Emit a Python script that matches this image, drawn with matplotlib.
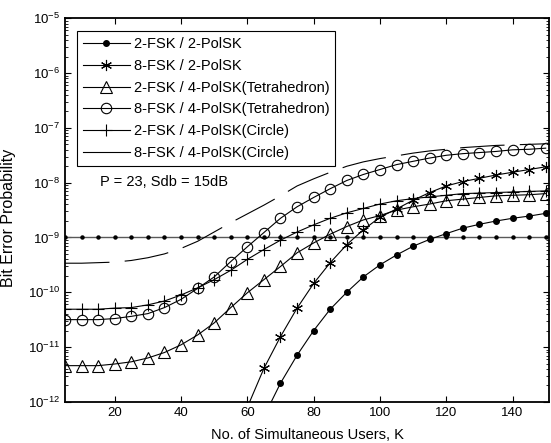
import matplotlib
matplotlib.use('Agg')
import matplotlib.pyplot as plt
from matplotlib.lines import Line2D
import numpy as np

plt.rcParams['font.family'] = ['Liberation Sans', 'DejaVu Sans']
plt.rcParams['font.size'] = 9
plt.rcParams['mathtext.default'] = 'regular'
plt.rcParams['lines.scale_dashes'] = False

# users K
K = np.arange(5, 155, 5)

# log10 of bit error probability
fsk2_pol2_K = np.arange(65, 155, 5)
fsk2_pol2 = [-12.27, -11.66, -11.15, -10.70, -10.31, -10.00, -9.72, -9.50, -9.32,
             -9.16, -9.035, -8.93, -8.83, -8.76, -8.70, -8.65, -8.61, -8.56]

fsk8_pol2_K = np.arange(60, 155, 5)
fsk8_pol2 = [-12.1, -11.39, -10.81, -10.29, -9.84, -9.46, -9.13, -8.86, -8.63, -8.48,
             -8.32, -8.18, -8.06, -7.98, -7.92, -7.86, -7.81, -7.76, -7.71]

fsk2_tetra = [-11.34, -11.34, -11.34, -11.31, -11.27, -11.20, -11.10, -10.96, -10.78, -10.56,
              -10.28, -10.01, -9.77, -9.53, -9.28, -9.10, -8.94, -8.80, -8.68, -8.60,
              -8.50, -8.44, -8.39, -8.33, -8.30, -8.27, -8.24, -8.23, -8.22, -8.20]

fsk8_tetra = [-10.50, -10.50, -10.50, -10.48, -10.44, -10.39, -10.28, -10.13, -9.93, -9.72,
              -9.44, -9.17, -8.91, -8.65, -8.44, -8.27, -8.11, -7.96, -7.85, -7.76,
              -7.67, -7.61, -7.55, -7.50, -7.47, -7.45, -7.43, -7.40, -7.39, -7.37]

fsk2_circle = [-10.31, -10.31, -10.31, -10.29, -10.28, -10.23, -10.16, -10.05, -9.92, -9.77,
               -9.60, -9.40, -9.22, -9.05, -8.90, -8.77, -8.65, -8.55, -8.47, -8.39,
               -8.33, -8.29, -8.26, -8.23, -8.20, -8.19, -8.18, -8.17, -8.16, -8.15]

fsk8_circle = [-9.47, -9.47, -9.46, -9.45, -9.42, -9.37, -9.30, -9.20, -9.07, -8.90,
               -8.73, -8.57, -8.41, -8.24, -8.06, -7.93, -7.81, -7.70, -7.62, -7.56,
               -7.51, -7.46, -7.42, -7.39, -7.36, -7.34, -7.32, -7.31, -7.30, -7.29]

ber_limit = 1e-9

labels = ['2-FSK / 2-PolSK', '8-FSK / 2-PolSK', '2-FSK / 4-PolSK(Tetrahedron)',
          '8-FSK / 4-PolSK(Tetrahedron)', '2-FSK / 4-PolSK(Circle)', '8-FSK / 4-PolSK(Circle)']

fig = plt.figure(figsize=(5.51, 4.43), dpi=100)
ax = fig.add_axes([0.118, 0.093, 0.8784, 0.8656])

lw = 0.8
ax.semilogy(K, np.full(len(K), ber_limit), color='0.35', lw=1.0, marker='o', ms=2.2,
            mfc='k', mec='k')

h1, = ax.semilogy(fsk2_pol2_K, 10.0 ** np.array(fsk2_pol2), 'k-', lw=lw, marker='o',
                  ms=4, mfc='k', mec='k')
h2, = ax.semilogy(fsk8_pol2_K, 10.0 ** np.array(fsk8_pol2), 'k-', lw=lw, marker=(6, 2, 0),
                  ms=8, mew=0.8)
h3, = ax.semilogy(K, 10.0 ** np.array(fsk2_tetra), 'k-', lw=lw, marker='^', ms=8,
                  mfc='none', mew=0.8)
h4, = ax.semilogy(K, 10.0 ** np.array(fsk8_tetra), 'k-', lw=lw, marker='o', ms=7.5,
                  mfc='none', mew=0.8)
h5, = ax.semilogy(K, 10.0 ** np.array(fsk2_circle), 'k-', lw=lw, marker='+', ms=9, mew=0.8)
h6, = ax.semilogy(K, 10.0 ** np.array(fsk8_circle), 'k-', lw=lw)
h6.set_dashes((32, 11))

ax.set_xlim(5, 151)
ax.set_ylim(1e-12, 1e-5)
ax.set_xticks([20, 40, 60, 80, 100, 120, 140])
ax.tick_params(which='both', direction='in', top=True, right=True)
ax.tick_params(which='major', length=4, labelsize=9.5)
ax.tick_params(which='minor', length=2)
for s in ax.spines.values():
    s.set_linewidth(1.3)

ax.set_xlabel('No. of Simultaneous Users, K', fontsize=10.5)
ax.xaxis.set_label_coords(0.5, -0.068)
ax.set_ylabel('Bit Error Probability', fontsize=11.5)
ax.yaxis.set_label_coords(-0.102, 0.479)

ax.text(100, 443 - 182, 'P = 23, Sdb = 15dB', transform=None, fontsize=10.5, va='center')

solid6 = Line2D([], [], color='k', lw=lw)
leg = ax.legend([h1, h2, h3, h4, h5, solid6], labels, loc='upper left',
                bbox_to_anchor=(0.025, 0.966), fancybox=False, edgecolor='k',
                framealpha=1, handlelength=3.2, labelspacing=0.53, borderpad=0.4,
                handletextpad=0.3, borderaxespad=0, fontsize=10.5)
leg.get_frame().set_linewidth(0.8)

fig.savefig('out.png', dpi=100)
